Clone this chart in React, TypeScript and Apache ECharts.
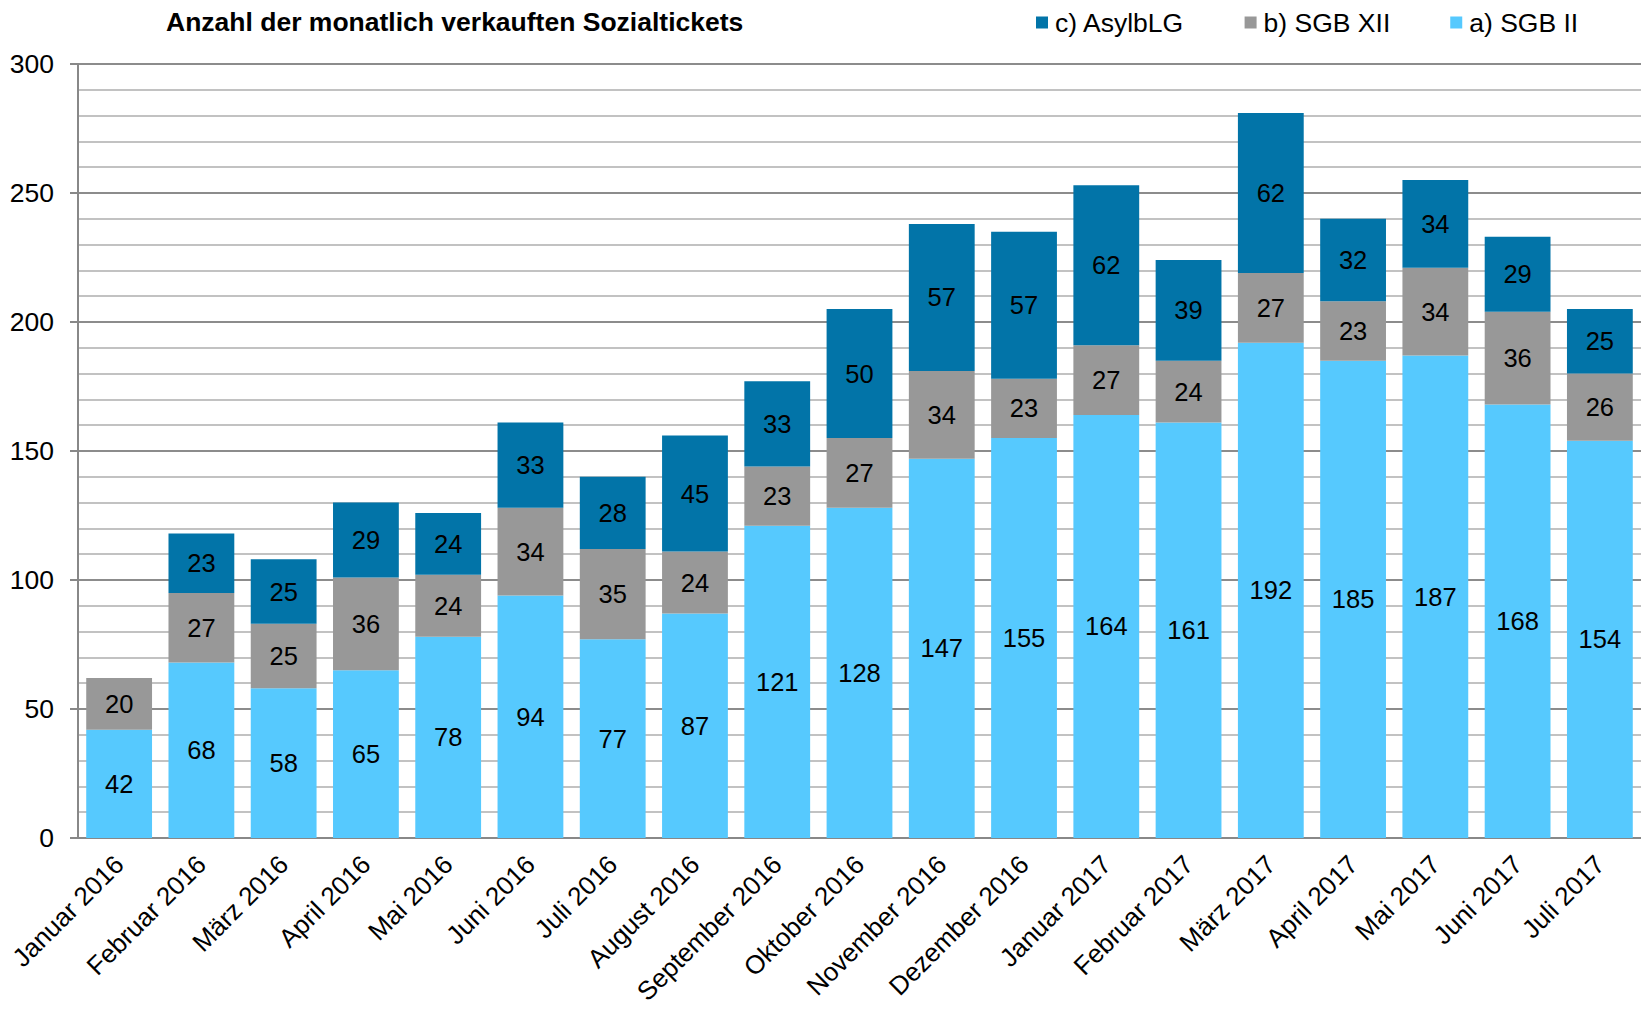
import React, { useEffect, useRef } from "react";
import * as echarts from "echarts";

const categories = [
  "Januar 2016", "Februar 2016", "März 2016", "April 2016", "Mai 2016", "Juni 2016",
  "Juli 2016", "August 2016", "September 2016", "Oktober 2016", "November 2016",
  "Dezember 2016", "Januar 2017", "Februar 2017", "März 2017", "April 2017",
  "Mai 2017", "Juni 2017", "Juli 2017",
];
const sgbII = [42, 68, 58, 65, 78, 94, 77, 87, 121, 128, 147, 155, 164, 161, 192, 185, 187, 168, 154];
const sgbXII = [20, 27, 25, 36, 24, 34, 35, 24, 23, 27, 34, 23, 27, 24, 27, 23, 34, 36, 26];
const asylbLG = [null, 23, 25, 29, 24, 33, 28, 45, 33, 50, 57, 57, 62, 39, 62, 32, 34, 29, 25];
const seriesNames = ["a) SGB II", "b) SGB XII", "c) AsylbLG"];
const legendOrder = ["c) AsylbLG", "b) SGB XII", "a) SGB II"];
const titleText = "Anzahl der monatlich verkauften Sozialtickets";
const yMin = 0;
const yMax = 300;
const yInterval = 50;

const FONT = "'Liberation Sans', Arial, Helvetica, sans-serif";
const colors = ["#56C9FE", "#989898", "#0274A8"];

export default function App() {
  const ref = useRef<HTMLDivElement>(null);
  useEffect(() => {
    if (!ref.current) return;
    const chart = echarts.init(ref.current, null, { renderer: "svg" });
    const label = {
      show: true,
      position: "inside",
      color: "#000",
      fontSize: 25.5,
      fontFamily: FONT,
    };
    const datasets = [sgbII, sgbXII, asylbLG];
    chart.setOption({
      animation: false,
      backgroundColor: "#fff",
      title: {
        text: titleText,
        left: 161,
        top: 3,
        textStyle: { fontFamily: FONT, fontSize: 26.5, fontWeight: "bold", color: "#000" },
      },
      legend: {
        data: legendOrder,
        left: 1031,
        top: 4,
        icon: "rect",
        itemWidth: 12,
        itemHeight: 12,
        itemGap: 60,
        textStyle: { fontFamily: FONT, fontSize: 26.5, color: "#000", padding: [0, 0, 0, 2] },
      },
      grid: {
        left: 78,
        right: 0,
        top: 64,
        bottom: 174,
        containLabel: false,
        outerBoundsMode: "none",
      },
      xAxis: {
        type: "category",
        data: categories,
        axisLine: { lineStyle: { color: "#888", width: 2 } },
        axisTick: { show: false },
        axisLabel: {
          rotate: 45,
          interval: 0,
          margin: 22,
          fontFamily: FONT,
          fontSize: 26,
          color: "#000",
        },
      },
      yAxis: {
        type: "value",
        min: yMin,
        max: yMax,
        interval: yInterval,
        axisLine: { show: true, lineStyle: { color: "#888", width: 2 } },
        axisTick: { show: true, length: 8, lineStyle: { color: "#888", width: 2 } },
        axisLabel: { margin: 24, fontFamily: FONT, fontSize: 26.5, color: "#000" },
        splitLine: { show: true, lineStyle: { color: "#8c8c8c", width: 2 } },
        minorTick: { show: false, splitNumber: 5 },
        minorSplitLine: { show: true, lineStyle: { color: "#c2c2c2", width: 2 } },
      },
      series: seriesNames.map((name, i) => ({
        name,
        type: "bar",
        stack: "total",
        data: datasets[i],
        barCategoryGap: "20%",
        itemStyle: { color: colors[i] },
        label,
      })),
    });
    return () => chart.dispose();
  }, []);
  return (
    <div
      ref={ref}
      style={{ position: "fixed", left: 0, top: 0, width: 1641, height: 1012, background: "#fff" }}
    />
  );
}
